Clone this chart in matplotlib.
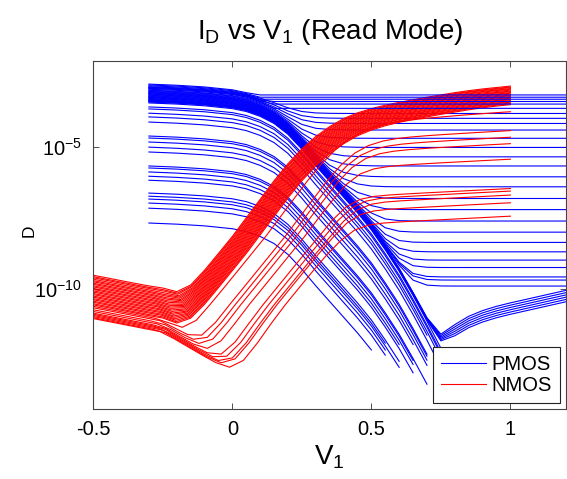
import numpy as np
import matplotlib.pyplot as plt
from matplotlib.lines import Line2D
from matplotlib.ticker import NullLocator

plt.rcParams['font.family'] = ['Liberation Sans', 'DejaVu Sans']
plt.rcParams['mathtext.fontset'] = 'custom'
plt.rcParams['mathtext.rm'] = 'Liberation Sans'
plt.rcParams['mathtext.it'] = 'Liberation Sans:italic'
plt.rcParams['mathtext.default'] = 'regular'

# all currents below are log10(I_D)

# ---------------- PMOS ----------------
v_p = np.linspace(-0.3, 1.2, 31)
# fall of the PMOS current relative to its level at V1 = -0.3
p_shape = [0.0, -0.02, -0.04, -0.07, -0.1, -0.15, -0.2, -0.3, -0.47, -0.72,
           -1.1, -1.62, -2.2, -2.75, -3.3, -3.85, -4.45, -5.15, -5.9, -6.75,
           -7.65, -8.6, -9.6, -10.6, -11.6, -12.6, -13.6, -14.6, -15.6, -16.6, -17.6]

# top curves that level off early
p_flat_start = [-2.81, -2.84, -2.87, -2.90, -2.93, -2.96]
p_flat_floor = [-3.19, -3.27, -3.34, -3.42, -3.51, -3.66]

# curves that drop through the steep band and level off on the right
p_drop_start = [-2.98, -3.00, -3.02, -3.04, -3.05, -3.07, -3.09, -3.11, -3.12, -3.14, -3.16,
                -3.18, -3.20, -3.22, -3.24, -3.26, -3.28, -3.29, -3.31, -3.33, -3.35]
p_drop_floor = [-3.84, -4.01, -4.19, -4.42, -4.71, -5.03, -5.36, -5.68, -6.06, -6.41, -6.82,
                -7.21, -7.61, -8.00, -8.36, -8.69, -8.98, -9.24, -9.57, -9.68, -9.89]

# curves with the dip near V1 = 0.8
p_dip_start = [-3.37, -3.38, -3.40, -3.41, -3.42, -3.44]
p_dip_offset = [0.0, -0.08, -0.16, -0.24, -0.32, -0.40]
p_dip_rise = [-22.0, -21.5, -21.0, -20.5, -20.0, -19.5, -19.0, -18.5, -18.0, -17.5, -17.0,
              -16.5, -16.0, -15.5, -15.0, -14.6, -14.2, -13.8, -13.4, -13.0, -12.4, -11.8,
              -11.25, -10.95, -10.75, -10.6, -10.48, -10.37, -10.26, -10.15, -10.04]

# lower starting curves that run off the bottom
p_low_start = [-3.47, -3.61, -3.68, -3.83, -3.96, -4.14, -4.63, -4.70, -4.84, -5.02, -5.19,
               -5.68, -5.75, -5.89, -6.04, -6.18, -6.63, -6.74, -6.84, -6.98, -7.16, -7.68]
p_low_end = [-12.9, -13.2, -12.6, -13.0, -12.4, -13.3, -12.8, -13.1, -12.5, -13.0, -12.7,
             -13.4, -12.6, -12.9, -12.3, -13.0, -12.7, -12.4, -12.9, -12.3, -12.6, -12.7]

# ---------------- NMOS ----------------
v_n = np.linspace(-1.0, 1.1, 43)
# channel current of the top NMOS curve
n_chan = [-21.6, -20.9, -20.2, -19.5, -18.8, -18.1, -17.4, -16.7,
          -16.0, -15.3, -14.6, -14.0, -13.3, -12.6, -11.9, -11.2, -10.55, -9.95, -9.35,
          -8.75, -8.15, -7.5, -6.85, -6.2, -5.6, -5.08, -4.65, -4.3, -4.02, -3.82, -3.67,
          -3.55, -3.45, -3.36, -3.27, -3.19, -3.11, -3.04, -2.98, -2.93, -2.88, -2.83, -2.78]
n_leak_slope = (-1.9, -5.7)   # before / after V1 = -0.25
n_end = 1.0                   # last V1 of the NMOS sweep

# main bundle
n_top_leak = [-9.51, -9.56, -9.60, -9.65, -9.70, -9.74, -9.79, -9.83, -9.88, -9.92, -9.97, -10.01,
              -10.06, -10.10, -10.15, -10.19, -10.24, -10.28, -10.33, -10.37, -10.42, -10.46, -10.51, -10.55]
n_top_shift = [0.0, 0.002, 0.004, 0.007, 0.009, 0.011, 0.013, 0.015, 0.017, 0.020, 0.022, 0.024,
               0.026, 0.028, 0.030, 0.033, 0.035, 0.037, 0.039, 0.041, 0.043, 0.046, 0.048, 0.050]
n_top_drop = [0.0, -0.03, -0.05, -0.08, -0.10, -0.13, -0.16, -0.18, -0.21, -0.23, -0.26, -0.29,
              -0.31, -0.34, -0.37, -0.39, -0.42, -0.44, -0.47, -0.50, -0.52, -0.55, -0.57, -0.60]

# lower curves that saturate early
n_low_leak = [-10.60, -10.65, -10.72, -10.78, -10.84, -10.88, -10.92, -10.96, -11.00, -11.03]
n_low_shift = [0.12, 0.19, 0.21, 0.23, 0.26, 0.31, 0.33, 0.35, 0.36, 0.39]
n_low_sat = [-3.70, -4.42, -4.66, -4.89, -5.44, -6.47, -6.56, -6.70, -6.97, -7.44]


def add(a, b):
    # two currents flowing together
    return np.log10(10.0 ** a + 10.0 ** b)


def limit(a, b):
    # current limited by the smaller one
    return -np.log10(10.0 ** -a + 10.0 ** -b)


def leak(a, x):
    s1, s2 = n_leak_slope
    return np.minimum(a + s1 * (x + 0.5), a + s1 * 0.25 + s2 * (x + 0.25))


def cut(x, y):
    # stop the polyline where the NMOS sweep ends
    keep = x < n_end
    return np.append(x[keep], n_end), np.append(y[keep], np.interp(n_end, x, y))


p_shape = np.array(p_shape)
p_dip_rise = np.array(p_dip_rise)
n_chan = np.array(n_chan)

fig = plt.figure(figsize=(5.67, 4.79), dpi=100)
ax = fig.add_axes([93.3 / 567, 1 - 409 / 479, (566 - 93.3) / 567, (409 - 61) / 479])

lw = 0.8

# PMOS curves that run off the bottom
for s, e in zip(p_low_start, p_low_end):
    y = s + p_shape
    keep = y >= e
    ax.plot(v_p[keep], 10.0 ** y[keep], color='b', lw=lw)

# PMOS curves through the steep band
for s, f in zip(p_drop_start, p_drop_floor):
    ax.plot(v_p, 10.0 ** add(s + p_shape, f), color='b', lw=lw)
for s, o in zip(p_dip_start, p_dip_offset):
    ax.plot(v_p, 10.0 ** add(s + p_shape, p_dip_rise + o), color='b', lw=lw)

# NMOS
for a, dv, ds in zip(n_top_leak, n_top_shift, n_top_drop):
    x = v_n + dv
    x, y = cut(x, add(n_chan + ds, leak(a, x)))
    ax.plot(x, 10.0 ** y, color='r', lw=lw)
for a, dv, s in zip(n_low_leak, n_low_shift, n_low_sat):
    x = v_n + dv
    x, y = cut(x, add(limit(n_chan, s + 0.5 * (x - 1.0)), leak(a, x)))
    ax.plot(x, 10.0 ** y, color='r', lw=lw)

# PMOS curves that stay on top
for s, f in zip(p_flat_start, p_flat_floor):
    ax.plot(v_p, 10.0 ** np.maximum(s + p_shape, f), color='b', lw=lw)

ax.set_yscale('log')
ax.set_xlim(-0.5, 1.2)
ax.set_ylim(10 ** -14.2, 1e-2)
ax.set_xticks([-0.5, 0, 0.5, 1])
ax.set_xticklabels(['-0.5', '0', '0.5', '1'])
ax.set_yticks([1e-10, 1e-5])
ax.set_yticklabels([r'$10^{-10}$', r'$10^{-5}$'])
ax.yaxis.set_minor_locator(NullLocator())
ax.tick_params(direction='in', top=True, right=True, length=4.5, width=0.6,
               labelsize=14.5, pad=8, colors='#333333', labelcolor='black')
for sp in ax.spines.values():
    sp.set_color('#444444')
    sp.set_linewidth(0.8)

ax.set_title(r'$I_D$ vs $V_1$ (Read Mode)', fontsize=20, pad=16)
ax.set_xlabel(r'$V_1$', fontsize=20, labelpad=3)
fig.text(29 / 567, 1 - 231 / 479, 'D', rotation=90, fontsize=12.5, ha='center', va='center')

handles = [Line2D([], [], color='b', lw=lw), Line2D([], [], color='r', lw=lw)]
leg = ax.legend(handles, ['PMOS', 'NMOS'], loc='lower right', fontsize=14.5,
                fancybox=False, framealpha=1, edgecolor='#222222',
                borderaxespad=0.3, handlelength=2.25, handletextpad=0.25,
                labelspacing=0.1, borderpad=0.4)
leg.get_frame().set_linewidth(0.8)

fig.savefig('out.png', dpi=100)
